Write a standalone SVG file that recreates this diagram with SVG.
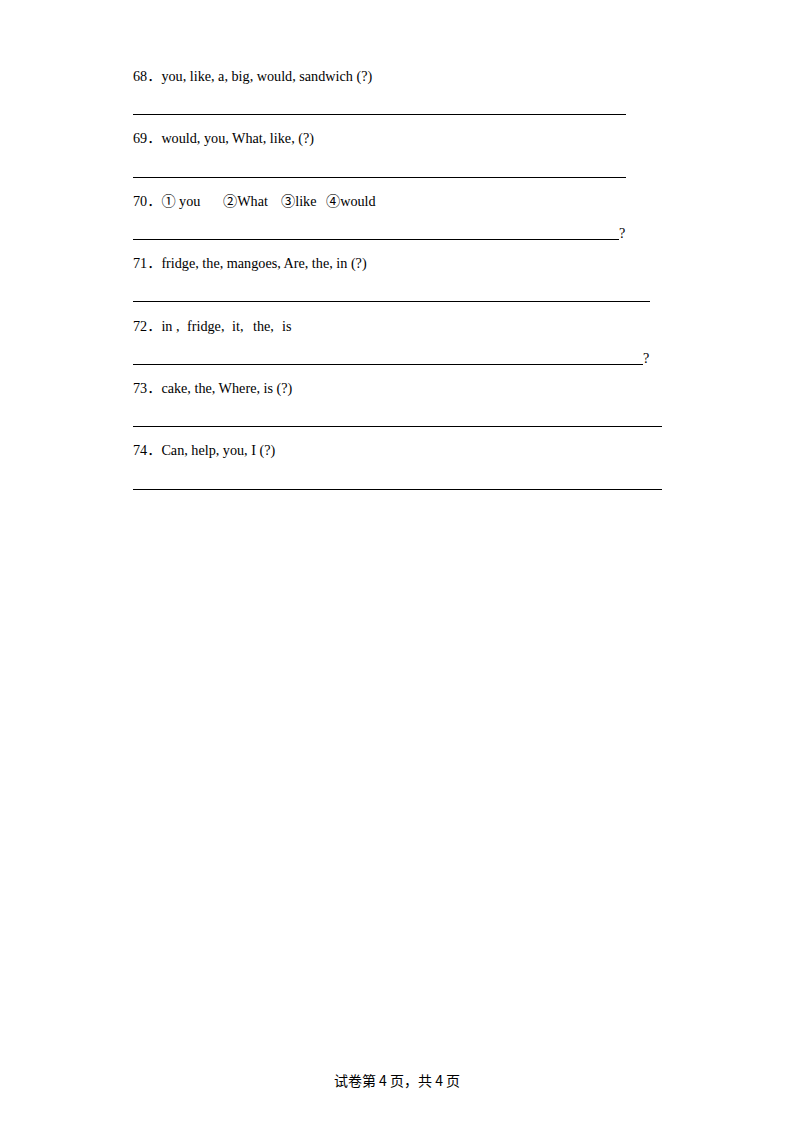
<svg xmlns="http://www.w3.org/2000/svg" width="794" height="1123" viewBox="0 0 794 1123">
<style>
.t{font-family:"Liberation Serif","Noto Sans CJK SC",serif;font-size:14.2px;fill:#000}
.f{font-family:"Noto Sans CJK SC",sans-serif;font-size:14px;fill:#000}
.l{stroke:#000;stroke-width:1}
</style>
<rect width="794" height="1123" fill="#fff"/>
<g id="q68">
<text class="t" x="133" y="81">68．you, like, a, big, would, sandwich (?)</text>
<line class="l" x1="133" y1="114.5" x2="626" y2="114.5"/>
</g>
<g id="q69">
<text class="t" x="133" y="143">69．would, you, What, like, (?)</text>
<line class="l" x1="133" y1="177.5" x2="626" y2="177.5"/>
</g>
<g id="q70">
<text class="t" y="206"><tspan x="133">70．① you</tspan><tspan x="223">②What</tspan><tspan x="281">③like</tspan><tspan x="326">④would</tspan></text>
<line class="l" x1="133" y1="239.5" x2="619" y2="239.5"/>
<text class="t" x="619" y="238">?</text>
</g>
<g id="q71">
<text class="t" x="133" y="268">71．fridge, the, mangoes, Are, the, in (?)</text>
<line class="l" x1="133" y1="301.5" x2="650" y2="301.5"/>
</g>
<g id="q72">
<text class="t" y="331"><tspan x="133">72．in ,</tspan><tspan x="187">fridge,</tspan><tspan x="232">it,</tspan><tspan x="253">the,</tspan><tspan x="282">is</tspan></text>
<line class="l" x1="133" y1="364.5" x2="643" y2="364.5"/>
<text class="t" x="643" y="363">?</text>
</g>
<g id="q73">
<text class="t" x="133" y="393">73．cake, the, Where, is (?)</text>
<line class="l" x1="133" y1="426.5" x2="662" y2="426.5"/>
</g>
<g id="q74">
<text class="t" x="133" y="455">74．Can, help, you, I (?)</text>
<line class="l" x1="133" y1="489.5" x2="662" y2="489.5"/>
</g>
<g id="footer">
<text class="f" x="397" y="1086" text-anchor="middle">试卷第 4 页，共 4 页</text>
</g>
</svg>
